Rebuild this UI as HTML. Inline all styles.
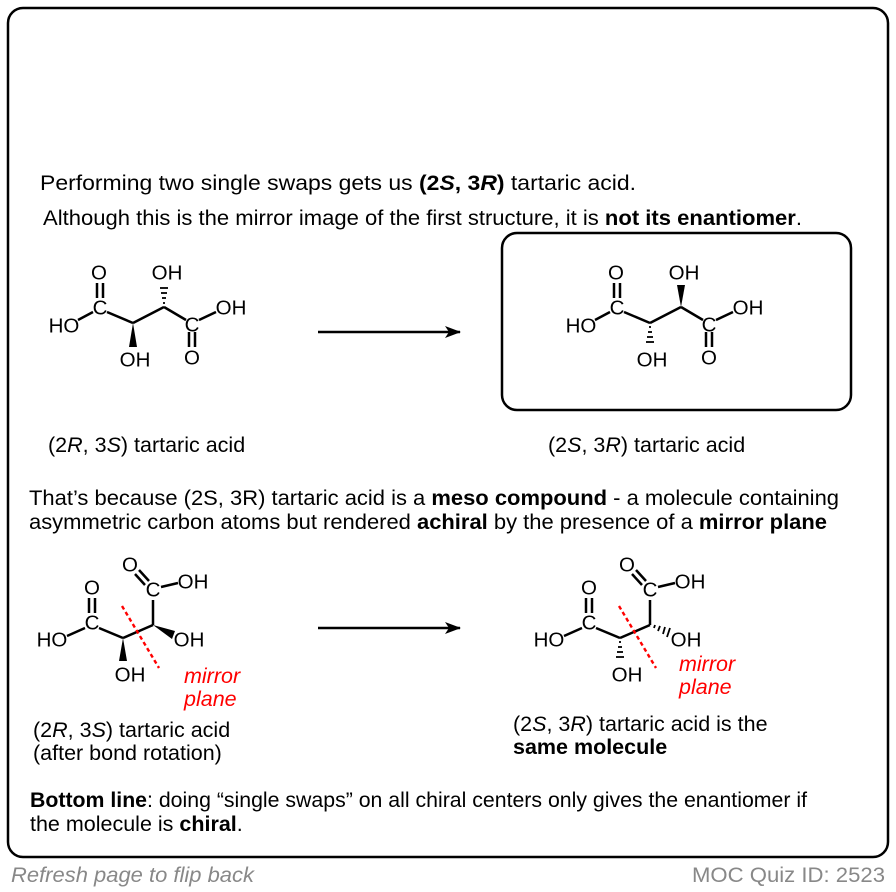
<!DOCTYPE html>
<html><head><style>
body{margin:0;background:#fff}
svg{display:block}
text{font-family:"Liberation Sans",Arial,sans-serif;fill:#000}
.a{font-size:20.5px;text-anchor:middle;dominant-baseline:central}
.t{font-size:21.5px}
</style></head><body>
<svg width="896" height="892" viewBox="0 0 896 892">
<defs>
<marker id="ah" markerWidth="16" markerHeight="12" refX="15" refY="6" orient="auto" markerUnits="userSpaceOnUse"><path d="M0,0 L16,6 L0,12 L4,6 Z" fill="#000"/></marker>
</defs>
<rect x="8" y="8" width="880" height="849" rx="15" fill="none" stroke="#000" stroke-width="2.5"/>
<rect x="502" y="233" width="349" height="177" rx="15" fill="none" stroke="#000" stroke-width="2.5"/>

<text class="t" x="40" y="190" textLength="596" lengthAdjust="spacingAndGlyphs">Performing two single swaps gets us <tspan font-weight="bold">(2<tspan font-style="italic">S</tspan>, 3<tspan font-style="italic">R</tspan>)</tspan> tartaric acid.</text>
<text class="t" x="43" y="225" textLength="759" lengthAdjust="spacingAndGlyphs">Although this is the mirror image of the first structure, it is <tspan font-weight="bold">not its enantiomer</tspan>.</text>

<g stroke="#000" stroke-width="2.5" fill="none">
<line x1="78" y1="320" x2="93" y2="312"/>
<line x1="97" y1="283" x2="97" y2="298"/><line x1="103" y1="283" x2="103" y2="298"/>
<line x1="107" y1="312" x2="133" y2="323"/>
<line x1="133" y1="323" x2="164" y2="307"/>
<line x1="164" y1="307" x2="186" y2="320"/>
<line x1="199" y1="320" x2="216" y2="312"/>
<line x1="189" y1="332" x2="189" y2="347"/><line x1="195" y1="332" x2="195" y2="347"/>
</g>
<polygon points="133,323 129,347 137,347" fill="#000"/>
<g stroke="#000" stroke-width="1.8"><line x1="163" y1="303" x2="165" y2="303"/><line x1="162" y1="298" x2="166" y2="298"/><line x1="161" y1="293" x2="167" y2="293"/><line x1="160" y1="288" x2="168" y2="288"/></g>
<text class="a" x="99" y="273">O</text><text class="a" x="100" y="308">C</text><text class="a" x="64" y="326">HO</text>
<text class="a" x="135" y="360">OH</text><text class="a" x="167" y="273">OH</text><text class="a" x="192" y="325">C</text>
<text class="a" x="192" y="358">O</text><text class="a" x="231" y="308">OH</text>

<g transform="translate(517,0)">
<g stroke="#000" stroke-width="2.5" fill="none">
<line x1="78" y1="320" x2="93" y2="312"/>
<line x1="97" y1="283" x2="97" y2="298"/><line x1="103" y1="283" x2="103" y2="298"/>
<line x1="107" y1="312" x2="133" y2="323"/>
<line x1="133" y1="323" x2="164" y2="307"/>
<line x1="164" y1="307" x2="186" y2="320"/>
<line x1="199" y1="320" x2="216" y2="312"/>
<line x1="189" y1="332" x2="189" y2="347"/><line x1="195" y1="332" x2="195" y2="347"/>
</g>
<polygon points="164,307 160,285 168,285" fill="#000"/>
<g stroke="#000" stroke-width="1.8"><line x1="132" y1="327" x2="134" y2="327"/><line x1="131" y1="332" x2="135" y2="332"/><line x1="130" y1="337" x2="136" y2="337"/><line x1="129" y1="342" x2="137" y2="342"/></g>
<text class="a" x="99" y="273">O</text><text class="a" x="100" y="308">C</text><text class="a" x="64" y="326">HO</text>
<text class="a" x="135" y="360">OH</text><text class="a" x="167" y="273">OH</text><text class="a" x="192" y="325">C</text>
<text class="a" x="192" y="358">O</text><text class="a" x="231" y="308">OH</text>
</g>

<line x1="318" y1="332" x2="460" y2="332" stroke="#000" stroke-width="2.5" marker-end="url(#ah)"/>
<text class="t" x="48" y="452">(2<tspan font-style="italic">R</tspan>, 3<tspan font-style="italic">S</tspan>) tartaric acid</text>
<text class="t" x="548" y="452">(2<tspan font-style="italic">S</tspan>, 3<tspan font-style="italic">R</tspan>) tartaric acid</text>

<text class="t" x="29" y="505" textLength="810" lengthAdjust="spacingAndGlyphs">That’s because (2S, 3R) tartaric acid is a <tspan font-weight="bold">meso compound</tspan> - a molecule containing</text>
<text class="t" x="29" y="529" textLength="798" lengthAdjust="spacingAndGlyphs">asymmetric carbon atoms but rendered <tspan font-weight="bold">achiral</tspan> by the presence of a <tspan font-weight="bold">mirror plane</tspan></text>

<g>
<g stroke="#000" stroke-width="2.5" fill="none">
<line x1="67" y1="636" x2="85" y2="628"/>
<line x1="89" y1="598" x2="89" y2="613"/><line x1="95" y1="598" x2="95" y2="613"/>
<line x1="99" y1="628" x2="123" y2="638"/>
<line x1="123" y1="638" x2="153" y2="625"/>
<line x1="153" y1="625" x2="153" y2="600"/>
<line x1="139" y1="570" x2="149" y2="581"/><line x1="135" y1="574" x2="145" y2="585"/>
<line x1="161" y1="587" x2="178" y2="583"/>
</g>
<polygon points="123,638 119,661 127,661" fill="#000"/>
<polygon points="153,625 175,631 172,639" fill="#000"/>
<line x1="122" y1="606" x2="159" y2="668" stroke="#f00" stroke-width="2.4" stroke-dasharray="4,3"/>
<text class="a" x="92" y="588">O</text><text class="a" x="92" y="623">C</text><text class="a" x="52" y="640">HO</text>
<text class="a" x="130" y="675">OH</text><text class="a" x="189" y="640">OH</text><text class="a" x="153" y="590">C</text>
<text class="a" x="130" y="565">O</text><text class="a" x="193" y="582">OH</text>
<text x="184" y="683" font-size="21.5" font-style="italic" style="fill:#f00">mirror</text>
<text x="184" y="706" font-size="21.5" font-style="italic" style="fill:#f00">plane</text>
</g>

<g transform="translate(497,0)">
<g stroke="#000" stroke-width="2.5" fill="none">
<line x1="67" y1="636" x2="85" y2="628"/>
<line x1="89" y1="598" x2="89" y2="613"/><line x1="95" y1="598" x2="95" y2="613"/>
<line x1="99" y1="628" x2="123" y2="638"/>
<line x1="123" y1="638" x2="153" y2="625"/>
<line x1="153" y1="625" x2="153" y2="600"/>
<line x1="139" y1="570" x2="149" y2="581"/><line x1="135" y1="574" x2="145" y2="585"/>
<line x1="161" y1="587" x2="178" y2="583"/>
</g>
<g stroke="#000" stroke-width="1.8"><line x1="122" y1="642" x2="124" y2="642"/><line x1="121" y1="647" x2="125" y2="647"/><line x1="120" y1="652" x2="126" y2="652"/><line x1="119" y1="657" x2="127" y2="657"/>
<line x1="158" y1="625" x2="157" y2="628"/><line x1="163" y1="626" x2="161" y2="631"/><line x1="168" y1="627" x2="166" y2="634"/><line x1="173" y1="628" x2="170" y2="637"/></g>
<line x1="122" y1="606" x2="159" y2="668" stroke="#f00" stroke-width="2.4" stroke-dasharray="4,3"/>
<text class="a" x="92" y="588">O</text><text class="a" x="92" y="623">C</text><text class="a" x="52" y="640">HO</text>
<text class="a" x="130" y="675">OH</text><text class="a" x="189" y="640">OH</text><text class="a" x="153" y="590">C</text>
<text class="a" x="130" y="565">O</text><text class="a" x="193" y="582">OH</text>
<text x="182" y="671" font-size="21.5" font-style="italic" style="fill:#f00">mirror</text>
<text x="182" y="694" font-size="21.5" font-style="italic" style="fill:#f00">plane</text>
</g>

<line x1="318" y1="628" x2="460" y2="628" stroke="#000" stroke-width="2.5" marker-end="url(#ah)"/>

<text class="t" x="33" y="737">(2<tspan font-style="italic">R</tspan>, 3<tspan font-style="italic">S</tspan>) tartaric acid</text>
<text class="t" x="33" y="760">(after bond rotation)</text>
<text class="t" x="513" y="731">(2<tspan font-style="italic">S</tspan>, 3<tspan font-style="italic">R</tspan>) tartaric acid is the</text>
<text class="t" x="513" y="754" font-weight="bold">same molecule</text>

<text class="t" x="30" y="807" textLength="777" lengthAdjust="spacingAndGlyphs"><tspan font-weight="bold">Bottom line</tspan>: doing “single swaps” on all chiral centers only gives the enantiomer if</text>
<text class="t" x="30" y="831"><tspan>the molecule is </tspan><tspan font-weight="bold">chiral</tspan>.</text>

<text x="11" y="882" font-size="21.5" font-style="italic" style="fill:#888" textLength="243" lengthAdjust="spacingAndGlyphs">Refresh page to flip back</text>
<text x="692" y="882" font-size="21.5" style="fill:#888" textLength="193" lengthAdjust="spacingAndGlyphs">MOC Quiz ID: 2523</text>
</svg>
</body></html>
